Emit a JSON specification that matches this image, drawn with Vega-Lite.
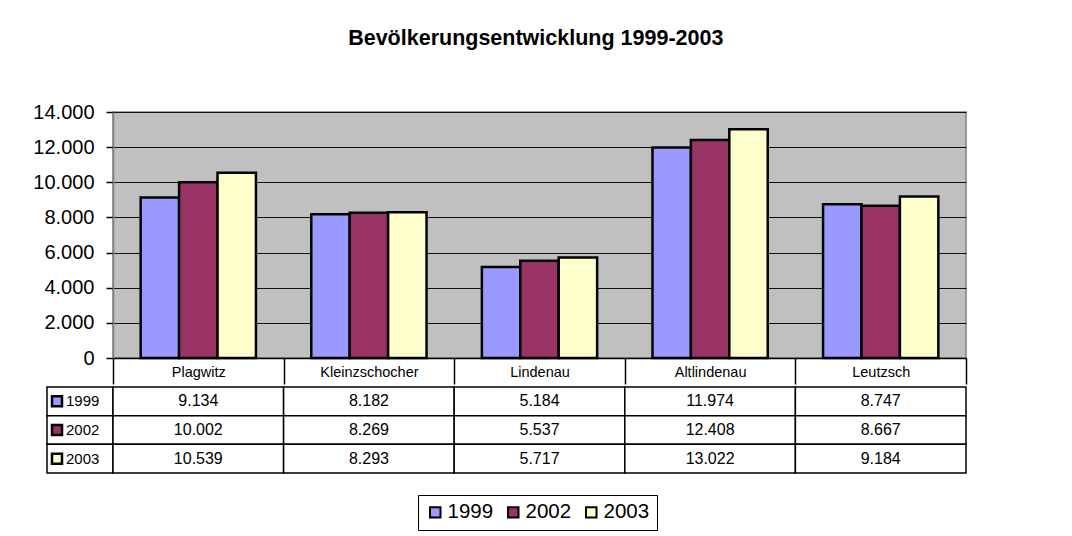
{
  "$schema": "https://vega.github.io/schema/vega-lite/v6.json",
  "background": "white",
  "padding": {"left": 32, "top": 27, "right": 0, "bottom": 0},
  "autosize": {"type": "pad"},
  "title": {"text": "Bevölkerungsentwicklung 1999-2003", "font": "Liberation Sans", "fontSize": 21.5, "fontWeight": "bold", "color": "black", "anchor": "middle", "offset": 52, "dx": 36},
  "datasets": {
    "pop": [
      {"district": "Plagwitz", "year": "1999", "value": 9134},
      {"district": "Plagwitz", "year": "2002", "value": 10002},
      {"district": "Plagwitz", "year": "2003", "value": 10539},
      {"district": "Kleinzschocher", "year": "1999", "value": 8182},
      {"district": "Kleinzschocher", "year": "2002", "value": 8269},
      {"district": "Kleinzschocher", "year": "2003", "value": 8293},
      {"district": "Lindenau", "year": "1999", "value": 5184},
      {"district": "Lindenau", "year": "2002", "value": 5537},
      {"district": "Lindenau", "year": "2003", "value": 5717},
      {"district": "Altlindenau", "year": "1999", "value": 11974},
      {"district": "Altlindenau", "year": "2002", "value": 12408},
      {"district": "Altlindenau", "year": "2003", "value": 13022},
      {"district": "Leutzsch", "year": "1999", "value": 8747},
      {"district": "Leutzsch", "year": "2002", "value": 8667},
      {"district": "Leutzsch", "year": "2003", "value": 9184}
    ]
  },
  "spacing": 0,
  "resolve": {"scale": {"x": "independent", "y": "independent", "color": "shared"}},
  "vconcat": [
    {
      "spacing": 0,
      "bounds": "flush",
      "hconcat": [
        {
          "width": 66, "height": 246,
          "data": {"values": [{"d": 1}]},
          "mark": {"type": "point", "opacity": 0},
          "encoding": {}
        },
        {
          "width": 853, "height": 246,
          "view": {"fill": "#C0C0C0", "stroke": "#808080", "strokeWidth": 1.5},
          "data": {"name": "pop"},
          "mark": {"type": "bar", "stroke": "black", "strokeWidth": 2.5},
          "encoding": {
            "x": {"field": "district", "type": "nominal",
                  "scale": {"domain": ["Plagwitz", "Kleinzschocher", "Lindenau", "Altlindenau", "Leutzsch"], "paddingInner": 0, "paddingOuter": 0},
                  "axis": {"title": null, "orient": "bottom", "labelAngle": 0, "labelFont": "Liberation Sans", "labelFontSize": 14.5, "labelColor": "black", "labelPadding": -19, "labelBaseline": "top", "tickBand": "extent", "tickSize": 26, "tickColor": "black", "tickWidth": 1.5, "domainColor": "black", "domainWidth": 1.5, "grid": false}},
            "xOffset": {"field": "year", "type": "nominal", "scale": {"domain": ["1999", "2002", "2003"], "paddingInner": 0, "paddingOuter": 0.72}},
            "y": {"field": "value", "type": "quantitative",
                  "scale": {"domain": [0, 14000], "nice": false},
                  "axis": {"title": null, "values": [0, 2000, 4000, 6000, 8000, 10000, 12000, 14000], "format": ",d", "labelFont": "Liberation Sans", "labelFontSize": 20, "labelColor": "black", "tickSize": 7, "labelPadding": 12, "tickColor": "black", "tickWidth": 1.5, "domainColor": "#808080", "domainWidth": 1.5, "grid": true, "gridColor": "#111111", "gridWidth": 1}},
            "color": {"field": "year", "type": "nominal",
                      "scale": {"domain": ["1999", "2002", "2003"], "range": ["#9999FF", "#993366", "#FFFFCC"]},
                      "legend": {"orient": "none", "legendX": 371, "legendY": 383, "direction": "horizontal", "title": null, "strokeColor": "black", "fillColor": "white", "padding": 7, "labelFont": "Liberation Sans", "labelFontSize": 20.5, "labelColor": "black", "symbolType": "square", "symbolSize": 110, "symbolStrokeWidth": 2, "symbolStrokeColor": "black", "symbolOpacity": 1, "columnPadding": 9, "labelOffset": 2}}
          }
        }
      ]
    },
    {
      "spacing": 0,
      "bounds": "flush",
      "hconcat": [
        {
          "width": 66, "height": 86,
          "data": {"name": "pop"},
          "transform": [{"filter": "datum.district === 'Plagwitz'"}],
          "encoding": {
            "y": {"field": "year", "type": "nominal", "scale": {"domain": ["1999", "2002", "2003"], "paddingInner": 0, "paddingOuter": 0}, "axis": null}
          },
          "layer": [
            {"mark": {"type": "rect", "fill": "white", "stroke": "black", "strokeWidth": 1.5}},
            {"mark": {"type": "point", "shape": "square", "size": 100, "filled": true, "stroke": "black", "strokeWidth": 2.5, "opacity": 1, "xOffset": -23},
             "encoding": {"fill": {"field": "year", "type": "nominal", "scale": {"domain": ["1999", "2002", "2003"], "range": ["#9999FF", "#993366", "#FFFFCC"]}, "legend": null}}},
            {"mark": {"type": "text", "align": "left", "dx": -14, "font": "Liberation Sans", "fontSize": 15, "color": "black"},
             "encoding": {"text": {"field": "year", "type": "nominal"}}}
          ]
        },
        {
          "width": 853, "height": 86,
          "data": {"name": "pop"},
          "encoding": {
            "x": {"field": "district", "type": "nominal", "scale": {"domain": ["Plagwitz", "Kleinzschocher", "Lindenau", "Altlindenau", "Leutzsch"], "paddingInner": 0, "paddingOuter": 0}, "axis": null},
            "y": {"field": "year", "type": "nominal", "scale": {"domain": ["1999", "2002", "2003"], "paddingInner": 0, "paddingOuter": 0}, "axis": null}
          },
          "layer": [
            {"mark": {"type": "rect", "fill": "white", "stroke": "black", "strokeWidth": 1.5}},
            {"mark": {"type": "text", "font": "Liberation Sans", "fontSize": 16, "color": "black"},
             "encoding": {"text": {"field": "value", "type": "quantitative", "format": ",d"}}}
          ]
        }
      ]
    }
  ],
  "config": {
    "view": {"stroke": null},
    "locale": {"number": {"decimal": ",", "thousands": ".", "grouping": [3], "currency": ["", " €"]}}
  }
}
